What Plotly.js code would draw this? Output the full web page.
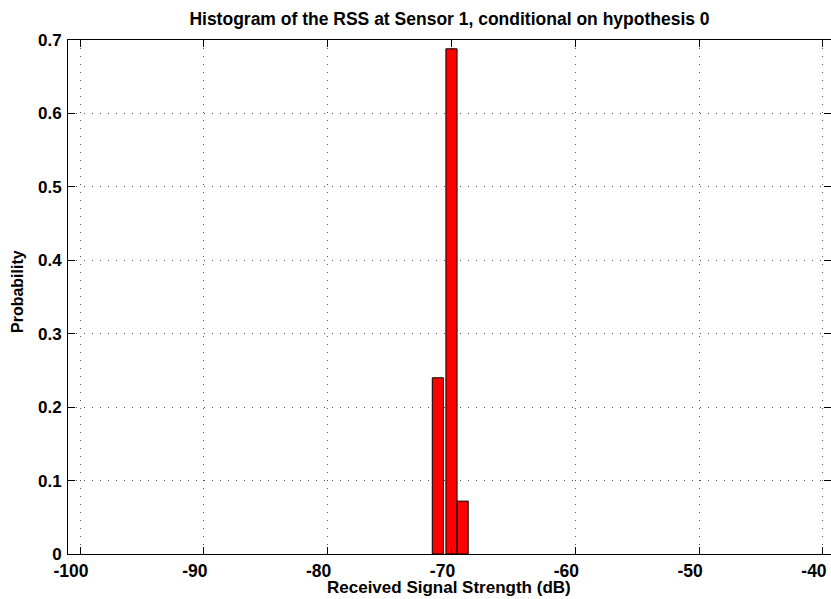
<!DOCTYPE html>
<html>
<head>
<meta charset="utf-8">
<script src="https://cdn.plot.ly/plotly-3.0.1.min.js"></script>
<style>html,body{margin:0;padding:0;background:#fff;}#chart{width:831px;height:599px;}</style>
</head>
<body>
<div id="chart"></div>
<script>
// Data
const binCenters = [-71.1, -70.0, -69.1];
const probabilities = [0.24, 0.688, 0.072];
const xTicks = [-100, -90, -80, -70, -60, -50, -40];
const yTicks = [0, 0.1, 0.2, 0.3, 0.4, 0.5, 0.6, 0.7];

const fam = 'Liberation Sans, Arial, sans-serif';
const tickFont = {family: fam, size: 17.5, color: '#000', weight: 'bold'};
const titleFont = {family: fam, size: 17.5, color: '#000', weight: 'bold'};

const trace = {
  type: 'bar',
  x: binCenters,
  y: probabilities,
  width: 0.9,
  marker: {color: '#ff0000', line: {color: '#000', width: 1}},
  hoverinfo: 'x+y'
};

const axisCommon = {
  showline: true, linecolor: '#000', linewidth: 1, mirror: 'ticks',
  ticks: 'inside', ticklen: 7, tickcolor: '#000', tickwidth: 1,
  showgrid: true, gridcolor: '#555', griddash: '1px,7px', gridwidth: 1,
  zeroline: false, tickfont: tickFont
};

const W = 831, H = 599;
const layout = {
  width: W, height: H,
  margin: {l: 68, r: 0, t: 40, b: 45},
  paper_bgcolor: '#fff', plot_bgcolor: '#fff',
  showlegend: false,
  title: {text: 'Histogram of the RSS at Sensor 1, conditional on hypothesis 0', font: titleFont,
          x: 449.5 / W, xanchor: 'center', y: 1 - 19 / H, yanchor: 'middle'},
  xaxis: Object.assign({}, axisCommon, {
    range: [-100.97, -39.35], tickvals: xTicks, ticktext: xTicks.map(String),
    ticklabeloverflow: 'allow', ticklabelshift: -9, ticklabelstandoff: 1
  }),
  yaxis: Object.assign({}, axisCommon, {
    range: [0, 0.7], tickvals: yTicks, ticktext: yTicks.map(v => v === 0 ? '0' : v.toFixed(1)),
    ticklabelstandoff: 2, tickfont: {family: fam, size: 17, color: '#000', weight: 'bold'}
  }),
  annotations: [
    {text: 'Received Signal Strength (dB)', font: {family: fam, size: 17, color: '#000', weight: 'bold'}, showarrow: false,
     xref: 'paper', yref: 'paper', x: (449 - 68) / (W - 68), y: (554 - 598) / (554 - 40),
     xanchor: 'center', yanchor: 'bottom', borderpad: 0},
    {text: 'Probability', font: {family: fam, size: 16, color: '#000', weight: 'bold'}, showarrow: false,
     textangle: -90, xref: 'paper', yref: 'paper', x: (17 - 68) / (W - 68), y: (554 - 292) / (554 - 40),
     xanchor: 'center', yanchor: 'middle'}
  ]
};

Plotly.newPlot('chart', [trace], layout, {displayModeBar: false, staticPlot: true});
</script>
</body>
</html>
